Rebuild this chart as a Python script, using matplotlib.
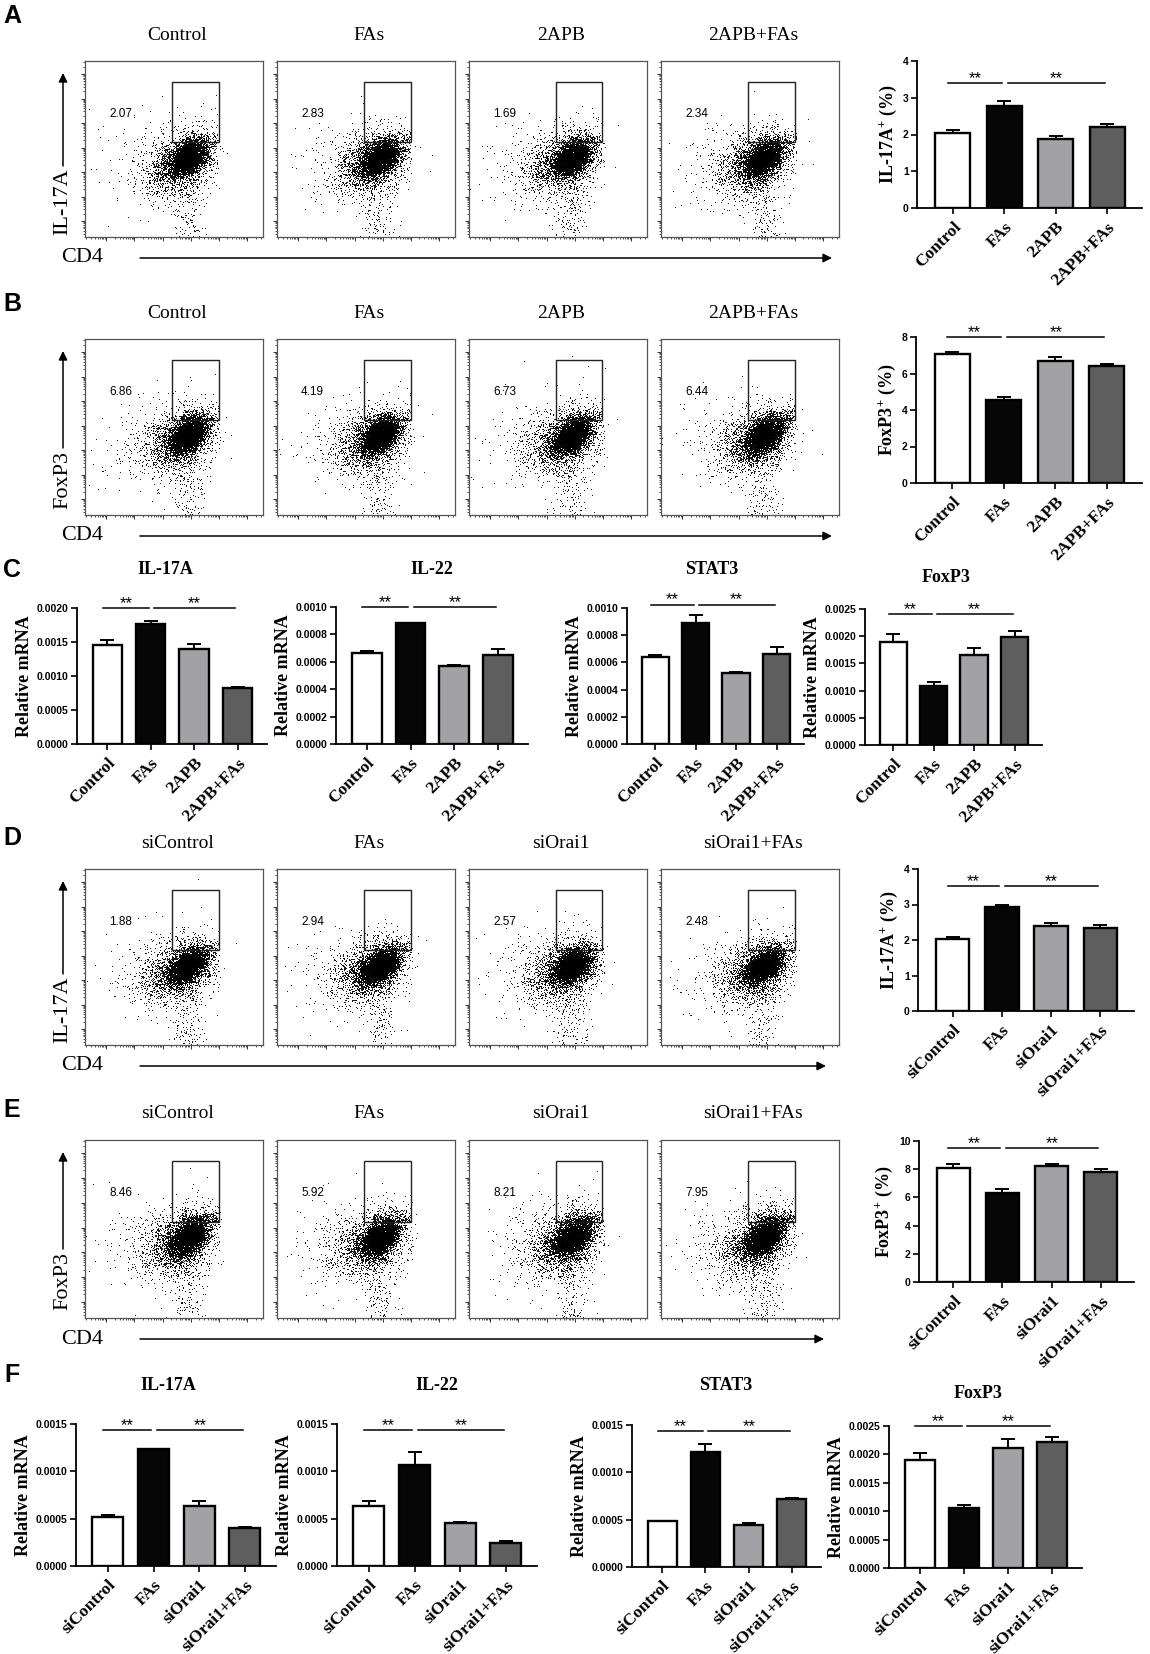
import numpy as np
import matplotlib
matplotlib.use('Agg')
import matplotlib.pyplot as plt
from matplotlib.patches import Rectangle
from matplotlib.ticker import LogLocator, NullFormatter

W, H = 1150, 1654
SERIF = ['Liberation Serif', 'DejaVu Serif']
SANS = ['Liberation Sans', 'DejaVu Sans']

plt.rcParams['font.family'] = SANS
plt.rcParams['mathtext.fontset'] = 'custom'
plt.rcParams['mathtext.rm'] = 'Liberation Serif:bold'
plt.rcParams['mathtext.bf'] = 'Liberation Serif:bold'

# ---------------- data ----------------
groups_2apb = ['Control', 'FAs', '2APB', '2APB+FAs']
groups_orai = ['siControl', 'FAs', 'siOrai1', 'siOrai1+FAs']

# gated percentages shown inside the flow plots
gate_A = [2.07, 2.83, 1.69, 2.34]
gate_B = [6.86, 4.19, 6.73, 6.44]
gate_D = [1.88, 2.94, 2.57, 2.48]
gate_E = [8.46, 5.92, 8.21, 7.95]

# bar charts next to the flow plots (%)
il17a_A = [2.05, 2.78, 1.88, 2.21]
il17a_A_err = [0.06, 0.13, 0.09, 0.07]
foxp3_B = [7.09, 4.53, 6.69, 6.40]
foxp3_B_err = [0.11, 0.16, 0.20, 0.13]
il17a_D = [2.03, 2.92, 2.40, 2.34]
il17a_D_err = [0.06, 0.08, 0.09, 0.09]
foxp3_E = [8.09, 6.33, 8.24, 7.79]
foxp3_E_err = [0.26, 0.28, 0.16, 0.21]

# relative mRNA, panel C (2APB)
c_il17a = [0.00146, 0.00177, 0.00139, 0.00082]
c_il17a_err = [0.00007, 0.00004, 0.00008, 0.00002]
c_il22 = [0.000665, 0.00088, 0.000572, 0.00065]
c_il22_err = [0.000015, 0.000003, 0.000005, 0.00004]
c_stat3 = [0.000642, 0.00089, 0.000525, 0.000664]
c_stat3_err = [0.00001, 0.000055, 0.000005, 0.00005]
c_foxp3 = [0.0019, 0.00109, 0.00166, 0.00198]
c_foxp3_err = [0.00014, 0.00006, 0.00013, 0.00011]

# relative mRNA, panel F (siOrai1)
f_il17a = [0.000515, 0.001232, 0.000639, 0.000402]
f_il17a_err = [0.000025, 0.000004, 0.00005, 0.000014]
f_il22 = [0.000639, 0.00107, 0.000459, 0.000244]
f_il22_err = [0.00005, 0.000134, 0.000004, 0.000025]
f_stat3 = [0.000481, 0.001213, 0.000446, 0.000718]
f_stat3_err = [0.000003, 0.00009, 0.00002, 0.000007]
f_foxp3 = [0.001894, 0.001065, 0.002112, 0.002212]
f_foxp3_err = [0.00013, 0.00005, 0.00016, 0.00009]

BAR_COLORS = ['white', '#060606', '#a2a2a6', '#5e5e5e']

fig = plt.figure(figsize=(W / 100, H / 100), dpi=100)

# overlay in pixel coordinates for labels and arrows
ov = fig.add_axes([0, 0, 1, 1])
ov.set_xlim(0, W)
ov.set_ylim(H, 0)
ov.axis('off')


def px_axes(left, top, right, bottom):
    return fig.add_axes([left / W, 1 - bottom / H, (right - left) / W, (bottom - top) / H])


# ---------------- flow cytometry plots ----------------
# the dot clouds cannot be read point by point; they are drawn as a texture
# from a fixed seed, shaped like the clouds in the picture
cloud_center = (0.58, 0.45)
gate_box = (0.49, 0.54, 0.75, 0.88)  # x0, y0, x1, y1 in axes fraction


def flow_cloud(seed, pct):
    rng = np.random.default_rng(seed)
    cx, cy = cloud_center
    core = rng.multivariate_normal([cx, cy], [[0.0028, 0.0012], [0.0012, 0.0024]], 3600)
    mid = rng.multivariate_normal([cx - 0.05, cy - 0.03], [[0.0110, 0.0030], [0.0030, 0.0080]], 1600)
    halo = rng.multivariate_normal([cx - 0.14, cy - 0.02], [[0.028, 0.003], [0.003, 0.016]], 300)
    tail = np.column_stack([rng.normal(cx - 0.01, 0.05, 150), rng.uniform(0.0, cy - 0.12, 150)])
    n_gate = int(5600 * pct / 100 * 0.5)
    gx = rng.uniform(gate_box[0] + 0.05, gate_box[2], n_gate)
    gy = gate_box[1] + rng.exponential(0.03, n_gate)
    gate = np.column_stack([gx, gy])
    pts = np.vstack([core, mid, halo, tail, gate])
    # population is cut off sharply on the right
    keep = (pts[:, 0] < 0.76) | (rng.uniform(size=len(pts)) < 0.12)
    return pts[keep]


def flow_row(top, bottom, titles, pcts, ylab, seed0, arrow_end):
    lefts = [85, 277, 469, 661]
    width = 178
    for i, (t, p) in enumerate(zip(titles, pcts)):
        ax = px_axes(lefts[i], top, lefts[i] + width, bottom)
        ax.set_xscale('log')
        ax.set_yscale('log')
        ax.set_xlim(10 ** -0.75, 10 ** 5.56)
        ax.set_ylim(10 ** -0.65, 10 ** 6.53)
        for a in (ax.xaxis, ax.yaxis):
            a.set_major_locator(LogLocator(base=10, numticks=20))
            a.set_minor_locator(LogLocator(base=10, subs=np.arange(2, 10), numticks=20))
            a.set_major_formatter(NullFormatter())
            a.set_minor_formatter(NullFormatter())
        ax.tick_params(which='major', direction='out', length=3.2, width=0.7, colors='#333333')
        ax.tick_params(which='minor', direction='out', length=1.6, width=0.6, colors='#333333')
        for s in ax.spines.values():
            s.set_color('#555555')
            s.set_linewidth(0.9)
        pts = flow_cloud(seed0 + i, p)
        ax.scatter(pts[:, 0], pts[:, 1], s=0.45, c='black', marker='o', linewidths=0,
                   transform=ax.transAxes)
        x0, y0, x1, y1 = gate_box
        ax.add_patch(Rectangle((x0, y0), x1 - x0, y1 - y0, transform=ax.transAxes,
                               fill=False, edgecolor='#222222', linewidth=1.0, zorder=5))
        ax.text(0.2, 0.70, f'{p:.2f}', transform=ax.transAxes, ha='center', va='center',
                fontsize=8.5, family=SANS)
        ov.text(lefts[i] + width / 2 + 3, top - 26, t, ha='center', va='center',
                fontsize=14, family=SERIF)
    # y axis label with arrow
    half = 33 if ylab == 'IL-17A' else 29
    yc = top + 141
    ov.text(63, yc, ylab, rotation=90, ha='center', va='center', fontsize=16, family=SERIF)
    ov.annotate('', xy=(63, top + 12), xytext=(63, yc - half - 3),
                arrowprops=dict(arrowstyle='-|>', color='black', lw=1.1, mutation_scale=13,
                                shrinkA=0, shrinkB=0))
    # CD4 axis label with arrow
    yb = bottom + 21
    ov.text(82, yb, 'CD4', ha='center', va='center', fontsize=16, family=SERIF)
    ov.annotate('', xy=(arrow_end, yb), xytext=(140, yb),
                arrowprops=dict(arrowstyle='-|>', color='black', lw=1.1, mutation_scale=13,
                                shrinkA=0, shrinkB=0))


flow_row(61, 237, groups_2apb, gate_A, 'IL-17A', 10, 832)
flow_row(339, 515, groups_2apb, gate_B, 'FoxP3', 20, 832)
flow_row(869, 1045, groups_orai, gate_D, 'IL-17A', 30, 826)
flow_row(1140, 1318, groups_orai, gate_E, 'FoxP3', 40, 824)


# ---------------- bar charts ----------------
def bar_chart(rect, labels, vals, errs, ymax, yticks, yfmt, ylabel, sig_y,
              title=None, title_xy=None):
    ax = px_axes(*rect)
    x = np.arange(len(vals))
    ax.bar(x, vals, width=0.68, color=BAR_COLORS, edgecolor='black', linewidth=1.7, zorder=2)
    ax.errorbar(x, vals, yerr=[np.zeros(len(vals)), errs], fmt='none', ecolor='black',
                elinewidth=1.4, capsize=5, capthick=1.4, zorder=3)
    ax.set_xlim(-0.7, 3.68)
    ax.set_ylim(0, ymax)
    for s in ('top', 'right'):
        ax.spines[s].set_visible(False)
    for s in ('left', 'bottom'):
        ax.spines[s].set_linewidth(1.3)
    ax.set_yticks(yticks)
    ax.set_yticklabels([yfmt.format(t) for t in yticks], fontsize=7.5, fontweight='bold',
                       family=SANS)
    ax.set_xticks(x)
    ax.set_xticklabels(labels, rotation=45, ha='right', va='top', rotation_mode='anchor',
                       fontsize=12.5, fontweight='bold', family=SERIF)
    ax.tick_params(direction='out', length=4, width=1.2, pad=2)
    ax.tick_params(axis='x', pad=4)
    ax.set_ylabel(ylabel, fontsize=13, fontweight='bold', family=SERIF, labelpad=3)
    for xa, xb in ((-0.1, 0.95), (1.07, 2.95)):
        ax.plot([xa, xb], [sig_y, sig_y], color='black', lw=1.1, clip_on=False)
        ax.text((xa + xb) / 2, sig_y, '**', ha='center', va='baseline', fontsize=12,
                family=SANS, clip_on=False)
    if title:
        ov.text(title_xy[0], title_xy[1], title, ha='center', va='center', fontsize=13,
                fontweight='bold', family=SERIF)
    return ax


pct_ticks4 = [0, 1, 2, 3, 4]
bar_chart((917, 61, 1142, 208), groups_2apb, il17a_A, il17a_A_err, 4, pct_ticks4, '{:.0f}',
          r'IL-17A$^\mathbf{+}$ (%)', 3.41)
bar_chart((916, 337, 1142, 483), groups_2apb, foxp3_B, foxp3_B_err, 8, [0, 2, 4, 6, 8], '{:.0f}',
          r'FoxP3$^\mathbf{+}$ (%)', 8.0)
bar_chart((918, 869, 1134, 1011), groups_orai, il17a_D, il17a_D_err, 4, pct_ticks4, '{:.0f}',
          r'IL-17A$^\mathbf{+}$ (%)', 3.51)
bar_chart((919, 1141, 1134, 1282), groups_orai, foxp3_E, foxp3_E_err, 10, [0, 2, 4, 6, 8, 10],
          '{:.0f}', r'FoxP3$^\mathbf{+}$ (%)', 9.5)

rel = 'Relative mRNA'
# panel C
bar_chart((77, 608, 267, 744), groups_2apb, c_il17a, c_il17a_err, 0.002,
          [0, 0.0005, 0.001, 0.0015, 0.002], '{:.4f}', rel, 0.002, 'IL-17A', (165, 570))
bar_chart((336, 607, 528, 744), groups_2apb, c_il22, c_il22_err, 0.001,
          [0, 0.0002, 0.0004, 0.0006, 0.0008, 0.001], '{:.4f}', rel, 0.001, 'IL-22', (432, 570))
bar_chart((627, 608, 804, 744), groups_2apb, c_stat3, c_stat3_err, 0.001,
          [0, 0.0002, 0.0004, 0.0006, 0.0008, 0.001], '{:.4f}', rel, 0.001025, 'STAT3', (712, 570))
bar_chart((865, 609, 1042, 745), groups_2apb, c_foxp3, c_foxp3_err, 0.0025,
          [0, 0.0005, 0.001, 0.0015, 0.002, 0.0025], '{:.4f}', rel, 0.00241, 'FoxP3', (946, 577))
# panel F
bar_chart((76, 1424, 276, 1566), groups_orai, f_il17a, f_il17a_err, 0.0015,
          [0, 0.0005, 0.001, 0.0015], '{:.4f}', rel, 0.00144, 'IL-17A', (168, 1385))
bar_chart((337, 1424, 537, 1566), groups_orai, f_il22, f_il22_err, 0.0015,
          [0, 0.0005, 0.001, 0.0015], '{:.4f}', rel, 0.00144, 'IL-22', (437, 1385))
bar_chart((632, 1425, 821, 1567), groups_orai, f_stat3, f_stat3_err, 0.0015,
          [0, 0.0005, 0.001, 0.0015], '{:.4f}', rel, 0.00144, 'STAT3', (726, 1386))
bar_chart((889, 1426, 1082, 1568), groups_orai, f_foxp3, f_foxp3_err, 0.0025,
          [0, 0.0005, 0.001, 0.0015, 0.002, 0.0025], '{:.4f}', rel, 0.0025, 'FoxP3', (978, 1393))

# panel letters
for letter, y in zip('ABCDEF', (16, 304, 570, 838, 1110, 1375)):
    ov.text(12, y, letter, ha='center', va='center', fontsize=18, fontweight='bold', family=SANS)

fig.savefig('out.png', dpi=100)
